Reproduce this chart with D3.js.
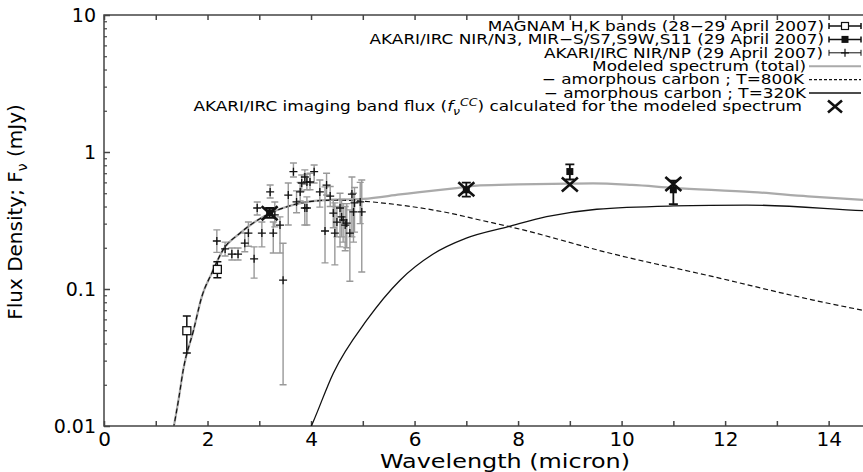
<!DOCTYPE html>
<html>
<head>
  <script src='https://d3js.org/d3.v7.min.js'></script>
  <style>
    body { margin: 0; background: #fff; }
    text { font-family: 'DejaVu Sans', sans-serif; fill: #000; }
  </style>
</head>
<body>
<div id='vis'></div>

<script>
// MAGNAM H,K photometry
const magnamX  = [1.60, 2.19];
const magnamY  = [0.0496, 0.139];
const magnamLo = [0.0341, 0.121];
const magnamHi = [0.0635, 0.158];

// AKARI/IRC band photometry (N3, S7, S9W, S11)
const akariX  = [3.2, 7.0, 9.0, 11.0];
const akariY  = [0.36, 0.53, 0.72, 0.53];
const akariLo = [0.33, 0.472, 0.63, 0.417];
const akariHi = [0.39, 0.598, 0.813, 0.617];

// AKARI/IRC NIR/NP spectrum
const npX  = [2.18, 2.34, 2.47, 2.59, 2.72, 2.79, 2.90, 2.96, 3.05, 3.21, 3.27, 3.30, 3.40, 3.46, 3.56,
              3.66, 3.72, 3.79, 3.82, 3.88, 3.88, 3.92, 3.92, 3.98, 4.06, 4.17, 4.27, 4.30, 4.37, 4.43,
              4.46, 4.50, 4.56, 4.59, 4.62, 4.66, 4.69, 4.75, 4.79, 4.82, 4.84, 4.95, 4.98];
const npY  = [0.224, 0.196, 0.180, 0.180, 0.216, 0.256, 0.166, 0.390, 0.256, 0.511, 0.256, 0.347, 0.293, 0.116, 0.485,
              0.718, 0.432, 0.511, 0.594, 0.657, 0.390, 0.604, 0.390, 0.604, 0.718, 0.511, 0.265, 0.574, 0.477, 0.358,
              0.256, 0.308, 0.390, 0.336, 0.319, 0.293, 0.303, 0.256, 0.493, 0.365, 0.425, 0.432, 0.365];
const npLo = [0.185, 0.174, 0.163, 0.163, 0.187, 0.205, 0.120, 0.347, 0.203, 0.462, 0.183, 0.284, 0.183, 0.020, 0.293,
              0.657, 0.36, 0.44, 0.52, 0.58, 0.293, 0.53, 0.293, 0.53, 0.594, 0.396, 0.155, 0.485, 0.40, 0.28,
              0.150, 0.24, 0.203, 0.24, 0.22, 0.19, 0.20, 0.114, 0.24, 0.22, 0.26, 0.30, 0.133];
const npHi = [0.270, 0.220, 0.199, 0.199, 0.256, 0.308, 0.203, 0.432, 0.308, 0.574, 0.308, 0.432, 0.336, 0.216, 0.594,
              0.832, 0.52, 0.60, 0.68, 0.74, 0.432, 0.69, 0.47, 0.70, 0.804, 0.625, 0.556, 0.70, 0.56, 0.45,
              0.425, 0.40, 0.50, 0.45, 0.42, 0.40, 0.42, 0.378, 0.657, 0.50, 0.55, 0.60, 0.625];

// modeled spectra
const totalX = [1.34, 1.45, 1.53, 1.73, 1.89, 2.08, 2.30, 2.63, 3.14, 3.53, 3.92, 4.4, 5.01, 5.72, 6.1,
                6.81, 7.26, 8.0, 9.0, 9.45, 10.2, 11.0, 12.54, 13.6, 14.66, 15.0];
const totalY = [0.0095, 0.0164, 0.0256, 0.050, 0.088, 0.130, 0.193, 0.256, 0.347, 0.398, 0.432, 0.447, 0.455, 0.49, 0.51,
                0.545, 0.57, 0.58, 0.588, 0.59, 0.575, 0.548, 0.51, 0.475, 0.447, 0.44];
const c800X = [1.34, 1.45, 1.53, 1.73, 1.89, 2.08, 2.30, 2.63, 3.14, 3.53, 3.92, 4.4, 5.01, 5.72, 6.68,
               7.26, 7.84, 9.84, 11.77, 13.70, 15.0];
const c800Y = [0.0095, 0.0164, 0.0256, 0.050, 0.088, 0.130, 0.193, 0.256, 0.347, 0.398, 0.432, 0.445, 0.437, 0.41, 0.358,
               0.319, 0.285, 0.18, 0.123, 0.083, 0.066];
const c320X = [3.98, 4.04, 4.43, 5.08, 5.72, 6.36, 7.0, 7.81, 8.55, 9.52, 11.0, 12.42, 14.67, 15.0];
const c320Y = [0.0095, 0.0107, 0.0243, 0.0594, 0.116, 0.180, 0.235, 0.285, 0.337, 0.382, 0.404, 0.41, 0.373, 0.368];

// imaging band flux computed from the model
const bandX = [3.2, 7.0, 9.0, 11.0];
const bandY = [0.357, 0.534, 0.58, 0.585];

const xTicks = [0, 2, 4, 6, 8, 10, 12, 14];
const yTicks = [0.01, 0.1, 1, 10];
const legendLabels = [
  'MAGNAM H,K bands (28\u221229 April 2007)',
  'AKARI/IRC NIR/N3, MIR\u2212S/S7,S9W,S11 (29 April 2007)',
  'AKARI/IRC NIR/NP (29 April 2007)',
  'Modeled spectrum (total)',
  '\u2212 amorphous carbon ; T=800K',
  '\u2212 amorphous carbon ; T=320K'
];

const width = 863, height = 472;
const mLeft = 104, mTop = 15, mBottom = 426;

const x = d3.scaleLinear().domain([0, 15]).range([mLeft, mLeft + 15 * 51.76]);
const y = d3.scaleLog().domain([0.01, 10]).range([mBottom, mTop]);

const svg = d3.select('#vis').append('svg')
  .attr('width', width).attr('height', height);

svg.append('clipPath').attr('id', 'plot')
  .append('rect').attr('x', mLeft).attr('y', mTop).attr('width', width - mLeft).attr('height', mBottom - mTop);

const axisColor = '#444';

// frame
svg.append('path')
  .attr('d', `M${width},${mTop}H${mLeft}V${mBottom}H${width}`)
  .attr('fill', 'none').attr('stroke', axisColor).attr('stroke-width', 1.5);

// x axis ticks, bottom and top
const xAll = d3.range(0, 16);
svg.append('g').attr('transform', `translate(0,${mBottom})`)
  .call(d3.axisBottom(x).tickValues(xAll).tickSize(-5).tickPadding(6)
    .tickFormat(d => xTicks.includes(d) ? d : ''))
  .call(g => g.select('.domain').remove())
  .call(g => g.selectAll('line').attr('stroke', axisColor).attr('stroke-width', 1.5))
  .call(g => g.selectAll('text').attr('font-size', 20).attr('font-family', 'DejaVu Sans').attr('fill', '#000'));

svg.append('g').attr('transform', `translate(0,${mTop})`)
  .call(d3.axisTop(x).tickValues(xAll).tickSize(-5).tickFormat(''))
  .call(g => g.select('.domain').remove())
  .call(g => g.selectAll('line').attr('stroke', axisColor).attr('stroke-width', 1.5));

// y axis: decades plus minor ticks
const yMinor = [];
yTicks.slice(0, -1).forEach(d => { for (let k = 2; k < 10; k++) yMinor.push(d * k); });

svg.append('g').attr('transform', `translate(${mLeft},0)`)
  .call(d3.axisLeft(y).tickValues(yMinor).tickSize(-3).tickFormat(''))
  .call(g => g.select('.domain').remove())
  .call(g => g.selectAll('line').attr('stroke', axisColor).attr('stroke-width', 1.2));

svg.append('g').attr('transform', `translate(${mLeft},0)`)
  .call(d3.axisLeft(y).tickValues(yTicks).tickSize(-6).tickPadding(8).tickFormat(d => String(d)))
  .call(g => g.select('.domain').remove())
  .call(g => g.selectAll('line').attr('stroke', axisColor).attr('stroke-width', 1.5))
  .call(g => g.selectAll('text').attr('font-size', 19).attr('font-family', 'DejaVu Sans').attr('fill', '#000'));

// axis titles
svg.append('text')
  .attr('x', 505).attr('y', 468)
  .attr('text-anchor', 'middle').attr('font-size', 20)
  .attr('textLength', 250).attr('lengthAdjust', 'spacingAndGlyphs')
  .text('Wavelength (micron)');

const yTitle = svg.append('text')
  .attr('transform', 'translate(22,212) rotate(-90)')
  .attr('text-anchor', 'middle').attr('font-size', 20);
yTitle.append('tspan').text('Flux Density; F');
yTitle.append('tspan').attr('font-size', 14).attr('dy', 5).text('\u03bd');
yTitle.append('tspan').attr('dy', -5).text(' (mJy)');

// plotted content, clipped to plot area
const plot = svg.append('g').attr('clip-path', 'url(#plot)');

const line = d3.line()
  .x(d => x(d[0])).y(d => y(d[1]))
  .curve(d3.curveMonotoneX);

plot.append('path').datum(d3.zip(totalX, totalY))
  .attr('d', line).attr('fill', 'none').attr('stroke', '#aaa').attr('stroke-width', 2.2);
plot.append('path').datum(d3.zip(c800X, c800Y))
  .attr('d', line).attr('fill', 'none').attr('stroke', '#111').attr('stroke-width', 1.2)
  .attr('stroke-dasharray', '5,3');
plot.append('path').datum(d3.zip(c320X, c320Y))
  .attr('d', line).attr('fill', 'none').attr('stroke', '#111').attr('stroke-width', 1.3);

// error bar helper
function errorBars(g, xs, ys, los, his, color, w, cap) {
  const rows = d3.zip(xs, ys, los, his);
  const eg = g.append('g').attr('stroke', color).attr('stroke-width', w).attr('fill', 'none');
  eg.selectAll('path').data(rows).enter().append('path')
    .attr('d', d => {
      const cx = x(d[0]), y0 = y(d[2]), y1 = y(d[3]);
      return `M${cx},${y0}V${y1}M${cx - cap},${y0}H${cx + cap}M${cx - cap},${y1}H${cx + cap}`;
    });
}

// NP spectrum
errorBars(plot, npX, npY, npLo, npHi, '#999', 1.4, 3.5);
plot.append('g').attr('stroke', '#111').attr('stroke-width', 1.3)
  .selectAll('path').data(d3.zip(npX, npY)).enter().append('path')
  .attr('d', d => `M${x(d[0]) - 4},${y(d[1])}h8M${x(d[0])},${y(d[1]) - 4}v8`);

// MAGNAM
errorBars(plot, magnamX, magnamY, magnamLo, magnamHi, '#111', 1.5, 4);
plot.append('g').selectAll('rect').data(d3.zip(magnamX, magnamY)).enter().append('rect')
  .attr('x', d => x(d[0]) - 4).attr('y', d => y(d[1]) - 4)
  .attr('width', 8).attr('height', 8)
  .attr('fill', '#fff').attr('stroke', '#111').attr('stroke-width', 1.3);

// AKARI bands
errorBars(plot, akariX, akariY, akariLo, akariHi, '#111', 1.8, 4.5);
plot.append('g').selectAll('rect').data(d3.zip(akariX, akariY)).enter().append('rect')
  .attr('x', d => x(d[0]) - 3.5).attr('y', d => y(d[1]) - 3.5)
  .attr('width', 7).attr('height', 7).attr('fill', '#111');

// model band flux crosses
plot.append('g').attr('stroke', '#111').attr('stroke-width', 2.6)
  .selectAll('path').data(d3.zip(bandX, bandY)).enter().append('path')
  .attr('d', d => `M${x(d[0]) - 8},${y(d[1]) - 7}l16,14M${x(d[0]) - 8},${y(d[1]) + 7}l16,-14`);

// legend (text is stretched sideways to match the wide reference glyphs)
const stretch = 1.25, ly0 = 26, ldy = 13.4;
const legEnd = [824, 824, 823, 806, 804, 806];
const leg = svg.append('g');
legendLabels.forEach((t, i) => {
  leg.append('text')
    .attr('transform', `translate(${legEnd[i]},${ly0 + i * ldy}) scale(${stretch},1)`)
    .attr('dy', '0.35em').attr('text-anchor', 'end').attr('font-size', 13.5).text(t);
});
[0, 1, 2].forEach(i => {
  const cy = ly0 + i * ldy, sx0 = 829, sx1 = 861, mid = (sx0 + sx1) / 2;
  const col = '#111', w = i === 2 ? 1 : 1.5;
  leg.append('path')
    .attr('d', `M${sx0},${cy}H${sx1}M${sx0},${cy - 3}v6M${sx1},${cy - 3}v6`)
    .attr('stroke', col).attr('stroke-width', w).attr('fill', 'none');
  if (i === 0) leg.append('rect').attr('x', mid - 3.5).attr('y', cy - 3.5).attr('width', 7).attr('height', 7)
    .attr('fill', '#fff').attr('stroke', col).attr('stroke-width', 1.2);
  if (i === 1) leg.append('rect').attr('x', mid - 3.5).attr('y', cy - 3.5).attr('width', 7).attr('height', 7)
    .attr('fill', col);
  if (i === 2) leg.append('path').attr('d', `M${mid - 4},${cy}h8M${mid},${cy - 4}v8`)
    .attr('stroke', col).attr('stroke-width', 1.2);
});
const lx0 = 809, lx1 = 861;
leg.append('line').attr('x1', lx0).attr('x2', lx1).attr('y1', ly0 + 3 * ldy).attr('y2', ly0 + 3 * ldy)
  .attr('stroke', '#aaa').attr('stroke-width', 2);
leg.append('line').attr('x1', lx0).attr('x2', lx1).attr('y1', ly0 + 4 * ldy).attr('y2', ly0 + 4 * ldy)
  .attr('stroke', '#111').attr('stroke-width', 1.2).attr('stroke-dasharray', '3,2');
leg.append('line').attr('x1', lx0).attr('x2', lx1).attr('y1', ly0 + 5 * ldy).attr('y2', ly0 + 5 * ldy)
  .attr('stroke', '#111').attr('stroke-width', 1.3);

// last legend row: text with f_nu^CC and a cross
const ly6 = ly0 + 6 * ldy;
const t6 = leg.append('text')
  .attr('transform', `translate(802,${ly6}) scale(${stretch},1)`)
  .attr('dy', '0.35em').attr('text-anchor', 'end').attr('font-size', 13.5);
t6.append('tspan').text('AKARI/IRC imaging band flux (');
t6.append('tspan').attr('font-style', 'italic').text('f');
t6.append('tspan').attr('font-size', 10).attr('dy', 4).attr('font-style', 'italic').text('\u03bd');
t6.append('tspan').attr('font-size', 10).attr('dy', -9).attr('font-style', 'italic').text('CC');
t6.append('tspan').attr('dy', 5).text(') calculated for the modeled spectrum');
leg.append('path')
  .attr('d', `M${835 - 7},${ly6 - 6}l14,12M${835 - 7},${ly6 + 6}l14,-12`)
  .attr('stroke', '#111').attr('stroke-width', 2.6);
</script>
</body>
</html>
